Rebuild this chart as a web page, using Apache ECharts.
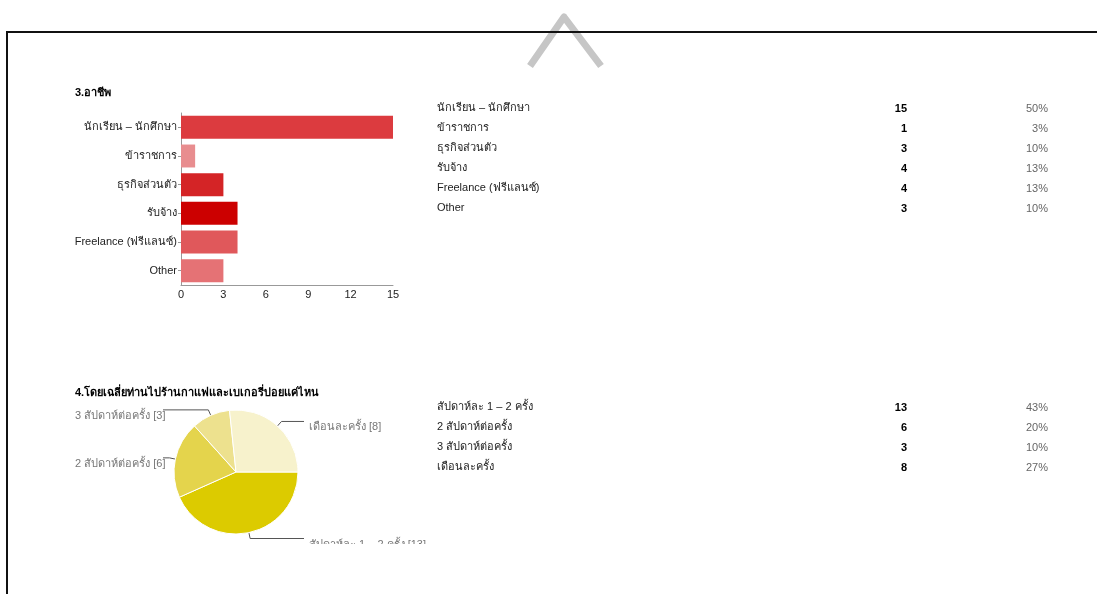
<!DOCTYPE html>
<html><head><meta charset="utf-8">
<script src="https://cdn.jsdelivr.net/npm/echarts@6/dist/echarts.min.js"></script>
<style>html,body{margin:0;padding:0;background:#fff}#c{width:1097px;height:594px}</style>
</head><body><div id="c"></div>
<script>
const occCats = ['นักเรียน – นักศึกษา','ข้าราชการ','ธุรกิจส่วนตัว','รับจ้าง','Freelance (ฟรีแลนซ์)','Other'];
const occVals = [15,1,3,4,4,3];
const occPct = ['50%','3%','10%','13%','13%','10%'];
const occColors = ['#dc3b3f','#e88d8f','#d42426','#cc0000','#e0585b','#e57275'];
const xTickMax = 15, xTickStep = 3;
const freqCats = ['สัปดาห์ละ 1 – 2 ครั้ง','2 สัปดาห์ต่อครั้ง','3 สัปดาห์ต่อครั้ง','เดือนละครั้ง'];
const freqVals = [13,6,3,8];
const freqPct = ['43%','20%','10%','27%'];
const freqColors = ['#dccb00','#e4d44c','#ede18e','#f7f2cc'];
const title1 = '3.อาชีพ';
const title2 = '4.โดยเฉลี่ยท่านไปร้านกาแฟและเบเกอรี่บ่อยแค่ไหน';

const FONT = 'Arial, "Liberation Sans", Tahoma, sans-serif';
const chart = echarts.init(document.getElementById('c'));

function tableRows(cats, vals, pcts, y0) {
  const out = [];
  cats.forEach((c, i) => {
    const y = y0 + i * 20;
    out.push({type:'text', left:437, top:y-6, style:{text:c, fill:'#222', font:'11px '+FONT}});
    out.push({type:'text', x:907, y:y+1, style:{text:String(vals[i]), fill:'#000', font:'bold 11px '+FONT, textAlign:'right', textVerticalAlign:'middle'}});
    out.push({type:'text', x:1048, y:y+1, style:{text:pcts[i], fill:'#666', font:'11px '+FONT, textAlign:'right', textVerticalAlign:'middle'}});
  });
  return out;
}

const graphics = [
  {type:'polyline', shape:{points:[[530,66],[564,17],[601,66]]}, style:{stroke:'#c6c6c6', lineWidth:7, fill:'none', lineJoin:'round'}, z:1},
  {type:'rect', shape:{x:7, y:32, width:1100, height:600}, style:{fill:'none', stroke:'#111', lineWidth:2}, z:5},
  {type:'text', left:75, top:87, style:{text:title1, fill:'#000', font:'bold 11px '+FONT}},
  {type:'text', left:75, top:387, style:{text:title2, fill:'#000', font:'bold 11px '+FONT}},
  {type:'rect', shape:{x:250, y:544, width:200, height:30}, style:{fill:'#fff'}, z:100}
].concat(tableRows(occCats, occVals, occPct, 108), tableRows(freqCats, freqVals, freqPct, 407));

chart.setOption({
  animation:false,
  textStyle:{fontFamily:FONT},
  grid:{left:181, top:113, width:212, height:172, containLabel:false},
  xAxis:{type:'value', min:0, max:xTickMax, interval:xTickStep,
    axisLine:{show:true, lineStyle:{color:'#999'}}, axisTick:{show:false}, splitLine:{show:false},
    axisLabel:{color:'#222', fontSize:11, margin:4}},
  yAxis:{type:'category', data:occCats, inverse:true,
    axisLine:{show:true, lineStyle:{color:'#999'}}, axisTick:{show:true, length:3, alignWithLabel:true, lineStyle:{color:'#999'}},
    axisLabel:{color:'#222', fontSize:11, margin:4}},
  series:[
    {type:'bar', data:occVals.map((v,i)=>({value:v, itemStyle:{color:occColors[i]}})), barCategoryGap:'20%'},
    {type:'pie', center:[236,472], radius:62, startAngle:0, clockwise:true,
      data:freqCats.map((c,i)=>({name:c, value:freqVals[i], itemStyle:{color:freqColors[i]}})),
      itemStyle:{borderColor:'#fff', borderWidth:1},
      label:{formatter:'{b} [{c}]', color:'#777', fontSize:11, alignTo:'labelLine'},
      labelLine:{length:6, length2:12, lineStyle:{color:'#555', width:1}},
      labelLayout:function(p){
        const pts = p.labelLinePoints;
        if(!pts) return {};
        const left = pts[2][0] < pts[0][0];
        const np = [pts[0].slice(), pts[1].slice(), pts[2].slice()];
        np[2][0] = left ? 163 : 304;
        return {x: left ? 75 : 309, y: np[2][1] + 6, align:'left', verticalAlign:'middle', labelLinePoints: np};
      }
    }
  ],
  graphic: graphics
});
</script></body></html>
